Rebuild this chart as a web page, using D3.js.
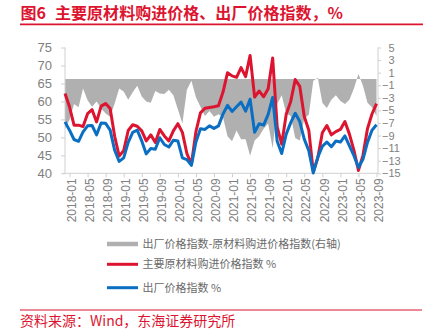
<!DOCTYPE html>
<html><head><meta charset="utf-8">
<script src="https://cdn.jsdelivr.net/npm/d3@7/dist/d3.min.js"></script>
<style>body{margin:0;background:#fff}svg{display:block}</style>
</head><body>
<svg id="c" width="434" height="332"></svg>
<script>
const months = [
"2017-12",
"2018-01","2018-02","2018-03","2018-04","2018-05","2018-06","2018-07","2018-08","2018-09","2018-10","2018-11","2018-12",
"2019-01","2019-02","2019-03","2019-04","2019-05","2019-06","2019-07","2019-08","2019-09","2019-10","2019-11","2019-12",
"2020-01","2020-02","2020-03","2020-04","2020-05","2020-06","2020-07","2020-08","2020-09","2020-10","2020-11","2020-12",
"2021-01","2021-02","2021-03","2021-04","2021-05","2021-06","2021-07","2021-08","2021-09","2021-10","2021-11","2021-12",
"2022-01","2022-02","2022-03","2022-04","2022-05","2022-06","2022-07","2022-08","2022-09","2022-10","2022-11","2022-12",
"2023-01","2023-02","2023-03","2023-04","2023-05","2023-06","2023-07","2023-08","2023-09"];

// 主要原材料购进价格指数 %
const purchase = [
62.2,
58.5,53.4,53.4,53.0,56.6,57.7,54.3,58.7,59.4,58.0,50.3,44.8,
46.3,51.9,53.5,53.1,51.8,49.0,50.7,48.6,52.2,50.4,49.0,51.8,
53.8,51.4,45.5,42.5,51.6,56.8,58.1,58.3,58.5,58.8,62.6,68.0,
67.1,66.7,69.4,66.9,72.8,61.2,62.9,61.3,63.5,72.1,52.9,48.1,
56.4,60.0,66.1,64.2,55.8,52.0,40.4,44.3,51.3,53.3,50.7,51.6,
52.2,54.4,50.9,46.4,40.8,45.0,52.4,56.5,59.4];

// 出厂价格指数 %
const factory = [
54.3,
52.0,49.4,48.9,51.5,53.2,53.3,50.7,54.0,53.9,52.0,46.4,43.3,
44.3,48.6,51.4,52.0,49.0,45.4,46.9,46.7,49.9,48.0,47.3,49.2,
49.0,44.3,43.8,42.2,48.7,52.4,52.2,53.2,52.5,53.2,56.5,58.9,
57.2,58.5,59.8,57.3,60.6,51.4,53.8,53.4,56.4,61.1,48.9,45.5,
50.9,54.1,56.7,54.4,49.5,46.3,40.1,44.5,47.5,48.7,47.4,49.0,
48.7,50.4,47.6,44.9,41.6,43.9,48.6,52.0,53.5];

// 出厂价格指数-原材料购进价格指数(右轴)
const spread = [
-7.9,
-6.5,-4.0,-4.5,-1.5,-3.4,-4.4,-3.6,-4.7,-5.5,-6.0,-3.9,-1.5,
-2.0,-3.3,-2.1,-1.1,-2.8,-3.6,-3.8,-1.9,-2.3,-2.4,-1.7,-2.6,
-4.8,-7.1,-1.7,-0.3,-2.9,-4.4,-5.9,-5.1,-6.0,-5.6,-6.1,-9.1,
-9.9,-8.2,-9.6,-9.6,-12.2,-9.8,-9.1,-7.9,-7.1,-11.0,-4.0,-2.6,
-5.5,-5.9,-9.4,-9.8,-6.3,-5.7,-0.3,0.2,-3.8,-4.6,-3.3,-2.6,
-3.5,-4.0,-3.3,-1.5,0.8,-1.1,-3.8,-4.5,-5.9];

const tickLabels = ["2018-01","2018-05","2018-09","2019-01","2019-05","2019-09","2020-01","2020-05","2020-09",
"2021-01","2021-05","2021-09","2022-01","2022-05","2022-09","2023-01","2023-05","2023-09"];
const leftTicks = [40,45,50,55,60,65,70,75];
const rightTicks = [-15,-13,-11,-9,-7,-5,-3,-1,1,3,5];
const legendLabels = ["出厂价格指数-原材料购进价格指数(右轴)","主要原材料购进价格指数 %","出厂价格指数 %"];
const titleNum = "图6";
const titleText = "主要原材料购进价格、出厂价格指数，%";
const sourceText = "资料来源：Wind，东海证券研究所";

const RED = "#dc1430", BLUE = "#0a6fc2", GRAY = "#b0b0b0", AXIS = "#d0d0d0", LBL = "#808080";
const FONT = "'Liberation Sans', Arial, 'Noto Sans CJK SC', sans-serif";
const CJK = "'Noto Sans CJK SC', 'Liberation Sans', sans-serif";

const svg = d3.select("#c");
const x = d3.scalePoint().domain(months).range([65, 376.5]);
const yL = d3.scaleLinear().domain([40, 75]).range([173.3, 47.5]);
const yR = d3.scaleLinear().domain([-15, 5]).range([173.3, 47.5]);

// Title
svg.append("text").attr("x", 20.5).attr("y", 18.8).attr("fill", RED)
  .attr("font-family", CJK).attr("font-weight", "bold").attr("font-size", 16).text(titleNum);
svg.append("text").attr("x", 55).attr("y", 18.8).attr("fill", RED)
  .attr("font-family", CJK).attr("font-weight", "bold").attr("font-size", 16)
  .attr("textLength", 288).attr("lengthAdjust", "spacing").text(titleText);
svg.append("line").attr("x1", 20).attr("x2", 423).attr("y1", 24.3).attr("y2", 24.3)
  .attr("stroke", RED).attr("stroke-width", 1.8);

// Gray area (right axis)
const area = d3.area().x((d, i) => x(months[i])).y0(yR(0)).y1(d => yR(d));
svg.append("path").datum(spread).attr("d", area).attr("fill", GRAY);

// Axes
const gL = svg.append("g").attr("transform", "translate(65,0)")
  .call(d3.axisLeft(yL).tickValues(leftTicks).tickSize(4).tickPadding(9));
const gR = svg.append("g").attr("transform", "translate(378,0)")
  .call(d3.axisRight(yR).tickValues(rightTicks).tickSize(3).tickPadding(2)
    .tickFormat(d => d < 0 ? "\u2212" + Math.abs(d) : String(d)));
const gB = svg.append("g").attr("transform", "translate(0,173.3)")
  .call(d3.axisBottom(x).tickValues(tickLabels).tickSize(4).tickSizeOuter(0));
[gL, gR, gB].forEach(g => {
  g.selectAll(".domain").attr("stroke", AXIS);
  g.selectAll(".tick line").attr("stroke", AXIS);
  g.selectAll("text").attr("fill", LBL).attr("font-family", FONT);
});
gL.select(".domain").attr("d", "M0,47.5V173.3");
gR.select(".domain").attr("d", "M0,47.5V173.3");
gB.select(".domain").attr("d", "M63,0H378");
gL.selectAll("text").attr("font-size", 13);
gR.selectAll("text").attr("font-size", 11).attr("x", 4).attr("dx", d => d > 0 ? 6.5 : 0);
gB.selectAll("text").attr("font-size", 12)
  .attr("transform", "rotate(-90)").attr("text-anchor", "end")
  .attr("x", -5).attr("y", 1.5).attr("dy", "0.35em");

// Lines
const line = vals => d3.line().x((d, i) => x(months[i])).y(d => yL(d))(vals);
svg.append("path").attr("d", line(purchase)).attr("fill", "none")
  .attr("stroke", RED).attr("stroke-width", 3).attr("stroke-linejoin", "round");
svg.append("path").attr("d", line(factory)).attr("fill", "none")
  .attr("stroke", BLUE).attr("stroke-width", 3).attr("stroke-linejoin", "round");

// Legend
const legY = [244, 264.3, 287.7];
const legC = [GRAY, RED, BLUE];
const legW = [4.5, 3, 3];
legendLabels.forEach((t, i) => {
  svg.append("line").attr("x1", 107).attr("x2", 138).attr("y1", legY[i]).attr("y2", legY[i])
    .attr("stroke", legC[i]).attr("stroke-width", legW[i]);
  svg.append("text").attr("x", 142.5).attr("y", legY[i]).attr("dy", "0.36em")
    .attr("font-family", CJK).attr("font-size", 11).attr("fill", "#6a6a6a").text(t);
});

// Source
svg.append("line").attr("x1", 20).attr("x2", 422).attr("y1", 310).attr("y2", 310)
  .attr("stroke", RED).attr("stroke-width", 1.2);
svg.append("text").attr("x", 20).attr("y", 326).attr("fill", RED)
  .attr("font-family", CJK).attr("font-size", 14).text(sourceText);
</script>
</body></html>
